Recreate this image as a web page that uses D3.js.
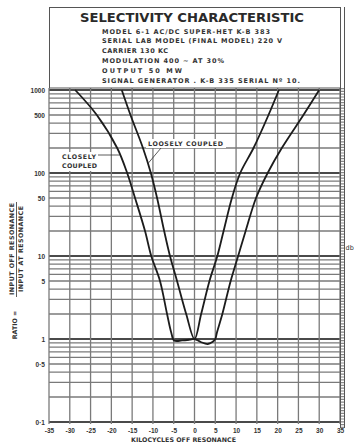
<!DOCTYPE html>
<html>
<head>
<meta charset="utf-8">
<script src="https://cdn.jsdelivr.net/npm/d3@7"></script>
<style>
  body { margin: 0; background: #fff; }
  svg { display: block; font-family: "DejaVu Sans", sans-serif; }
  .grid line { stroke: #7a7a7a; stroke-width: 1.3; }
  .grid line.major { stroke: #4a4a4a; stroke-width: 2; }
  .tick text { font-size: 6.5px; font-weight: bold; fill: #333; }
  .domain { display: none; }
  .lbl { font-size: 6.3px; font-weight: bold; fill: #333; }
  .info { font-size: 6.5px; font-weight: bold; fill: #333; }
</style>
</head>
<body>
<div id="chart"></div>
<script>
  // kilocycles off resonance vs ratio
  const closelyKc    = [-28.7, -23.5, -18.6, -16.2, -14.3, -11.9, -10.4, -8.3, -6.6, -5.6, -4.9, -3.0, -1.2, 0, 1.5, 3.2, 4.3, 5.0, 5.4, 6.7, 8.7, 10.5, 12.3, 14.8, 17.6, 21.0, 26.2, 30.0];
  const closelyRatio = [1000, 500, 200, 100, 50, 20, 10, 5, 2, 1.2, 0.96, 0.96, 0.98, 1.0, 0.92, 0.87, 0.92, 1.0, 1.2, 2, 5, 10, 20, 50, 100, 200, 500, 1000];

  const looselyKc    = [-17.5, -15.4, -12.4, -10.5, -9.0, -7.3, -5.9, -4.2, -2.0, 0, 1.6, 3.6, 5.5, 7.0, 9.0, 11.0, 14.2, 17.8, 20.3];
  const looselyRatio = [1000, 500, 200, 100, 50, 20, 10, 5, 2, 1, 2, 5, 10, 20, 50, 100, 200, 500, 1000];

  const xTicks = [-35, -30, -25, -20, -15, -10, -5, 0, 5, 10, 15, 20, 25, 30, 35];
  const xTickLabels = ['-35', '-30', '-25', '-20', '-15', '-10', '-5', '0', '5', '10', '15', '20', '25', '30', '35'];
  const yTicks = [1000, 500, 100, 50, 10, 5, 1, 0.5, 0.1];
  const yTickLabels = ['1000', '500', '100', '50', '10', '5', '1', '0·5', '0·1'];

  const infoLines = [
    'MODEL  6-1 AC/DC SUPER-HET  K-B 383',
    'SERIAL  LAB MODEL (FINAL MODEL) 220 V',
    'CARRIER  130 KC',
    'MODULATION   400 ~ AT 30%',
    'OUTPUT   50 MW',
    'SIGNAL GENERATOR . K-B 335 SERIAL Nº 10.'
  ];
  const infoWidths = [168, 180, 66, 122, 80, 198];

  const W = 354, H = 445;
  const pLeft = 49, pRight = 340, pTop = 90, pBottom = 422;

  const x = d3.scaleLinear().domain([-35, 35]).range([pLeft, pRight]);
  const y = d3.scaleLog().domain([0.1, 1000]).range([pBottom, pTop]);

  const svg = d3.select('#chart').append('svg')
    .attr('width', W).attr('height', H);

  // log grid 1..9 per decade
  const hVals = [];
  for (let e = -1; e < 3; e++) for (let m = 1; m < 10; m++) hVals.push(m * Math.pow(10, e));
  hVals.push(1000);
  const isDecade = d => Math.abs(Math.log10(d) - Math.round(Math.log10(d))) < 1e-9;

  const grid = svg.append('g').attr('class', 'grid');
  grid.selectAll('line.h').data(hVals).join('line')
    .attr('class', d => isDecade(d) ? 'h major' : 'h')
    .attr('x1', pLeft).attr('x2', pRight)
    .attr('y1', d => y(d)).attr('y2', d => y(d));
  grid.selectAll('line.v').data(xTicks).join('line')
    .attr('class', 'v')
    .attr('x1', d => x(d)).attr('x2', d => x(d))
    .attr('y1', pTop - 2).attr('y2', pBottom + 2);

  // db ladder on the right
  svg.append('line').attr('x1', 342.5).attr('x2', 342.5).attr('y1', 88).attr('y2', 428)
    .attr('stroke', '#888').attr('stroke-width', 4).attr('stroke-dasharray', '1.2,1.6');
  svg.append('line').attr('x1', 340.5).attr('x2', 340.5).attr('y1', 7).attr('y2', 428)
    .attr('stroke', '#555').attr('stroke-width', 1);
  svg.append('line').attr('x1', 344.5).attr('x2', 344.5).attr('y1', 7).attr('y2', 428)
    .attr('stroke', '#555').attr('stroke-width', 1);
  svg.append('text').attr('x', 345.6).attr('y', 250)
    .style('font-size', '6.5px').attr('fill', '#333').text('db');

  // title box
  svg.append('rect').attr('x', 49.5).attr('y', 7.5).attr('width', 291).attr('height', 80.5)
    .attr('fill', '#fff').attr('stroke', '#555');
  svg.append('text').attr('x', 80).attr('y', 22)
    .attr('textLength', 224).attr('lengthAdjust', 'spacingAndGlyphs')
    .style('font-size', '12.5px').style('font-weight', 'bold').attr('fill', '#2a2a2a')
    .text('SELECTIVITY CHARACTERISTIC');
  svg.selectAll('text.info').data(infoLines).join('text')
    .attr('class', 'info')
    .attr('x', 102).attr('y', (d, i) => 33.5 + i * 9.9)
    .attr('textLength', (d, i) => infoWidths[i]).attr('lengthAdjust', 'spacing')
    .text(d => d);

  // curves
  const line = d3.line()
    .x(d => x(d[0])).y(d => y(d[1]))
    .curve(d3.curveCatmullRom.alpha(0.5));
  svg.append('path')
    .datum(closelyKc.map((k, i) => [k, closelyRatio[i]]))
    .attr('d', line).attr('fill', 'none').attr('stroke', '#1c1c1c').attr('stroke-width', 1.8);
  svg.append('path')
    .datum(looselyKc.map((k, i) => [k, looselyRatio[i]]))
    .attr('d', line).attr('fill', 'none').attr('stroke', '#1c1c1c').attr('stroke-width', 1.8);

  // curve labels
  svg.append('rect').attr('x', 60).attr('y', 152).attr('width', 40).attr('height', 19).attr('fill', '#fff');
  svg.append('text').attr('class', 'lbl').attr('x', 62).attr('y', 159).attr('textLength', 34).text('CLOSELY');
  svg.append('text').attr('class', 'lbl').attr('x', 62).attr('y', 168).attr('textLength', 35).text('COUPLED');
  svg.append('line').attr('x1', 98).attr('x2', x(-18.0)).attr('y1', 155).attr('y2', 155)
    .attr('stroke', '#333').attr('stroke-width', 0.8);

  svg.append('rect').attr('x', 146).attr('y', 139).attr('width', 80).attr('height', 9).attr('fill', '#fff');
  svg.append('text').attr('class', 'lbl').attr('x', 148).attr('y', 146).attr('textLength', 75).text('LOOSELY  COUPLED');
  svg.append('line').attr('x1', 161).attr('y1', 148).attr('x2', x(-11.2)).attr('y2', y(130))
    .attr('stroke', '#333').attr('stroke-width', 0.8);

  // axes
  svg.append('g').attr('transform', `translate(${pLeft - 2},0)`)
    .call(d3.axisLeft(y).tickValues(yTicks).tickFormat((d, i) => yTickLabels[i]).tickSize(0).tickPadding(2));
  svg.append('g').attr('transform', `translate(0,${pBottom + 3})`)
    .call(d3.axisBottom(x).tickValues(xTicks).tickFormat((d, i) => xTickLabels[i]).tickSize(0).tickPadding(3));

  svg.append('text').attr('class', 'lbl').attr('x', 131).attr('y', 442)
    .attr('textLength', 105).text('KILOCYCLES OFF RESONANCE');

  // y title: RATIO = INPUT OFF RESONANCE / INPUT AT RESONANCE
  const yt = svg.append('g');
  yt.append('text').attr('class', 'lbl').attr('text-anchor', 'middle')
    .attr('transform', 'translate(17,325) rotate(-90)').text('RATIO =');
  yt.append('text').attr('class', 'lbl').attr('text-anchor', 'middle')
    .attr('transform', 'translate(14,249) rotate(-90)').attr('textLength', 92).text('INPUT OFF RESONANCE');
  yt.append('text').attr('class', 'lbl').attr('text-anchor', 'middle')
    .attr('transform', 'translate(23,249) rotate(-90)').attr('textLength', 86).text('INPUT AT RESONANCE');
  yt.append('line').attr('x1', 16.5).attr('x2', 16.5).attr('y1', 202).attr('y2', 297)
    .attr('stroke', '#333').attr('stroke-width', 0.8);
</script>
</body>
</html>
